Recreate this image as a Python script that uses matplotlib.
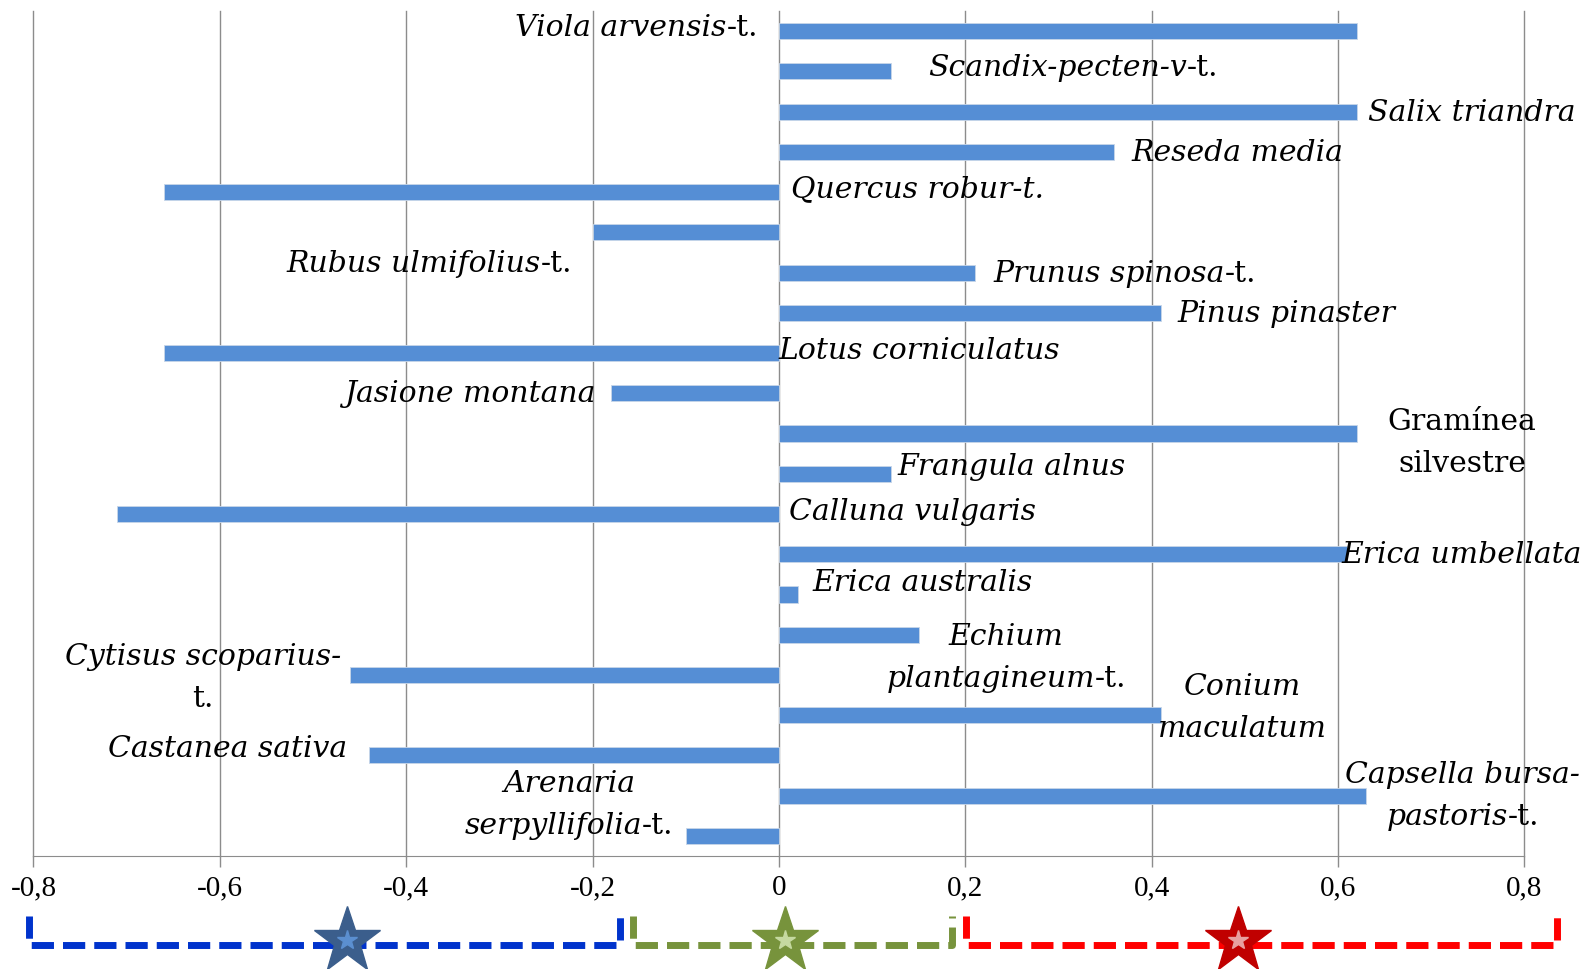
import numpy as np
import matplotlib
matplotlib.use("Agg")
import matplotlib.pyplot as plt
from matplotlib.offsetbox import TextArea, HPacker, VPacker, AnnotationBbox
from matplotlib.ticker import FuncFormatter

# bar values, top to bottom
taxa = ["Viola arvensis-t.", "Scandix-pecten-v-t.", "Salix triandra", "Reseda media",
        "Quercus robur-t.", "Rubus ulmifolius-t.", "Prunus spinosa-t.", "Pinus pinaster",
        "Lotus corniculatus", "Jasione montana", "Gramínea silvestre", "Frangula alnus",
        "Calluna vulgaris", "Erica umbellata", "Erica australis", "Echium plantagineum-t.",
        "Cytisus scoparius-t.", "Conium maculatum", "Castanea sativa",
        "Capsella bursa-pastoris-t.", "Arenaria serpyllifolia-t."]
values = [0.62, 0.12, 0.62, 0.36, -0.66, -0.20, 0.21, 0.41, -0.66, -0.18, 0.62, 0.12,
          -0.71, 0.61, 0.02, 0.15, -0.46, 0.41, -0.44, 0.63, -0.10]
xticks = [-0.8, -0.6, -0.4, -0.2, 0, 0.2, 0.4, 0.6, 0.8]

# label pieces: lines of (text, italic)
label_parts = [
    [[("Viola arvensis", 1), ("-t.", 0)]],
    [[("Scandix-pecten-v", 1), ("-t.", 0)]],
    [[("Salix triandra", 1)]],
    [[("Reseda media", 1)]],
    [[("Quercus robur-t.", 1)]],
    [[("Rubus ulmifolius", 1), ("-t.", 0)]],
    [[("Prunus spinosa", 1), ("-t.", 0)]],
    [[("Pinus pinaster", 1)]],
    [[("Lotus corniculatus", 1)]],
    [[("Jasione montana", 1)]],
    [[("Gramínea", 0)], [("silvestre", 0)]],
    [[("Frangula alnus", 1)]],
    [[("Calluna vulgaris", 1)]],
    [[("Erica umbellata", 1)]],
    [[("Erica australis", 1)]],
    [[("Echium", 1)], [("plantagineum", 1), ("-t.", 0)]],
    [[("Cytisus scoparius-", 1)], [("t.", 0)]],
    [[("Conium", 1)], [("maculatum", 1)]],
    [[("Castanea sativa", 1)]],
    [[("Capsella bursa-", 1)], [("pastoris", 1), ("-t.", 0)]],
    [[("Arenaria", 1)], [("serpyllifolia", 1), ("-t.", 0)]],
]
# where each label sits: x, y (row), horizontal anchor
label_pos = [
    (-0.022, -0.1, 1), (0.16, 0.9, 0), (0.632, 2, 0), (0.378, 3, 0),
    (0.013, 3.9, 0), (-0.222, 5.75, 1), (0.23, 6, 0), (0.428, 7, 0),
    (0.0, 7.92, 0), (-0.197, 9.0, 1), (0.733, 10.22, 0.5), (0.127, 10.8, 0),
    (0.011, 11.93, 0), (0.604, 13, 0), (0.036, 13.7, 0), (0.244, 15.55, 0.5),
    (-0.618, 16.05, 0.5), (0.497, 16.8, 0.5), (-0.463, 17.82, 1),
    (0.734, 18.99, 0.5), (-0.225, 19.2, 0.5),
]

serif = "DejaVu Serif"
fsize = 21.5

fig = plt.figure(figsize=(15.85, 9.70), dpi=100)
ax = fig.add_axes([0.0211, 0.1165, 0.9406, 0.8711])

ypos = np.arange(len(values))
ax.barh(ypos, values, height=0.4, color="#558ed5", edgecolor="#c8d6e8",
        linewidth=0.6, zorder=3)
ax.set_xlim(-0.8, 0.8)
ax.set_ylim(len(values) - 0.5, -0.5)
ax.set_xticks(xticks)
ax.xaxis.set_major_formatter(FuncFormatter(lambda v, p: ("%g" % round(v, 1)).replace(".", ",")))
ax.set_yticks([])
ax.grid(axis="x", color="#8c8c8c", linewidth=1.0, zorder=0)
for gl in ax.get_xgridlines():
    gl.set_clip_on(False)
for s in ["top", "right", "left"]:
    ax.spines[s].set_visible(False)
ax.spines["bottom"].set_color("#8c8c8c")
ax.tick_params(axis="x", direction="out", length=8, width=1, color="#8c8c8c",
               pad=5, labelsize=21)
for t in ax.get_xticklabels():
    t.set_family("Liberation Serif")

for parts, (lx, ly, ha) in zip(label_parts, label_pos):
    rows = []
    for line in parts:
        areas = [TextArea(txt, textprops=dict(family=serif, size=fsize,
                                              style="italic" if it else "normal"))
                 for txt, it in line]
        rows.append(HPacker(children=areas, sep=0, pad=0, align="baseline"))
    box = VPacker(children=rows, sep=10, pad=0, align="center")
    ab = AnnotationBbox(box, (lx, ly), xycoords="data", box_alignment=(ha, 0.5),
                        frameon=False, pad=0, annotation_clip=False, zorder=5)
    ax.add_artist(ab)

# brackets under the axis
ax2 = fig.add_axes([0.0211, 0.0, 0.9406, 0.09])
ax2.set_xlim(-0.8, 0.8)
ax2.set_ylim(0, 0.09)
ax2.axis("off")

groups = [(-0.805, -0.171, "#0033cc", -0.463, "#3b5e8c", "#5b8fd0"),
          (-0.157, 0.186, "#77933c", 0.007, "#77933c", "#c5d9a0"),
          (0.2005, 0.835, "#ff0000", 0.493, "#c00000", "#e8a0a0")]
for x0, x1, col, sx, scol, sin in groups:
    ax2.plot([x0, x0, x1, x1], [0.055, 0.025, 0.025, 0.055], color=col, lw=5,
             ls=(0, (3.2, 1.3)), clip_on=False, solid_capstyle="butt")
    ax2.plot([sx], [0.029], marker="*", ms=50, color=scol, mec=scol, clip_on=False, zorder=4)
    ax2.plot([sx], [0.030], marker="*", ms=15, color=sin, mec=sin, clip_on=False, zorder=5)

fig.savefig("out.png", dpi=100)
